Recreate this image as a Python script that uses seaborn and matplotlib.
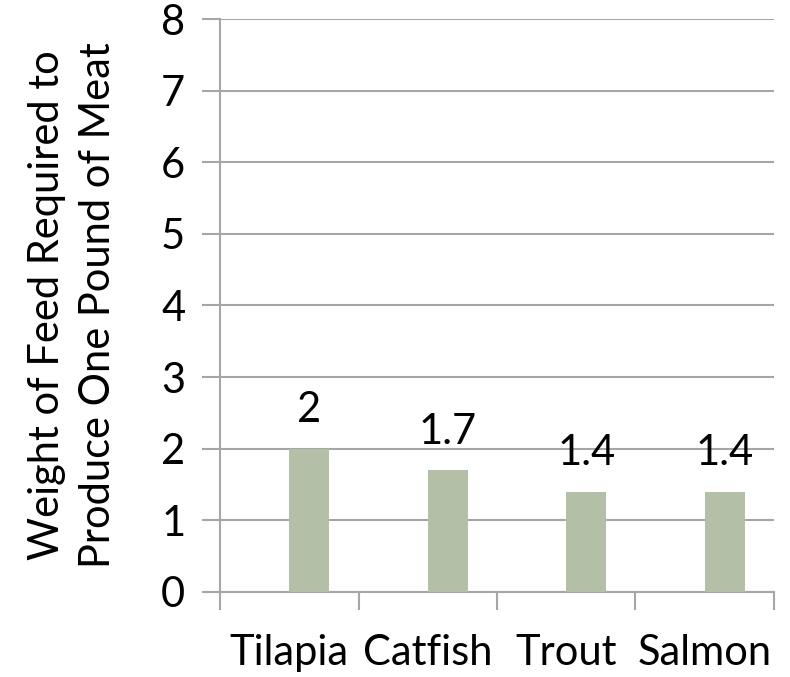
import numpy as np
import pandas as pd
import matplotlib.pyplot as plt
import seaborn as sns

# Chart data
fish = ['Tilapia', 'Catfish', 'Trout', 'Salmon']
feed_ratio = [2, 1.7, 1.4, 1.4]
label_text = ['2', '1.7', '1.4', '1.4']

sns.set_style('white')
plt.rcParams['font.family'] = ['Lato', 'DejaVu Sans']
plt.rcParams['text.color'] = 'black'
plt.rcParams['axes.labelcolor'] = 'black'
plt.rcParams['xtick.labelcolor'] = 'black'
plt.rcParams['ytick.labelcolor'] = 'black'

# Excel-style clustered layout: an empty first series pushes the bars right
df = pd.DataFrame({
    'fish': fish * 2,
    'value': [0] * len(fish) + feed_ratio,
    'series': ['blank'] * len(fish) + ['feed'] * len(fish),
})

grid_color = '#A6A6A6'
bar_color = '#B4C3A3'
fs = 30

fig = plt.figure(figsize=(7.9, 6.77), dpi=100)
ax = fig.add_axes([0.2785, 0.1256, 0.7012, 0.8463])

sns.barplot(data=df, x='fish', y='value', hue='series', hue_order=['blank', 'feed'],
            palette={'blank': bar_color, 'feed': bar_color}, width=0.576,
            linewidth=0, legend=False, ax=ax, zorder=3)

ax.set_ylim(0, 8)
ax.set_xlim(-0.5, len(fish) - 0.5)
ax.set_yticks(range(0, 9))
ax.yaxis.grid(True, color=grid_color, linewidth=1.5, zorder=0)
ax.set_axisbelow(True)

# category boundaries get the tick marks, labels sit at the centres
ax.set_xticks(np.arange(-0.5, len(fish)), labels=[''] * (len(fish) + 1))
ax.set_xticks(range(len(fish)), labels=fish, minor=True)
ax.tick_params(axis='x', which='major', bottom=True, length=13, width=1.5, color=grid_color)
ax.tick_params(axis='x', which='minor', bottom=True, length=0, pad=30, labelsize=fs)
ax.tick_params(axis='y', left=True, length=13, width=1.5, color=grid_color, pad=12, labelsize=fs)

for side in ['top', 'right']:
    ax.spines[side].set_visible(False)
for side in ['left', 'bottom']:
    ax.spines[side].set_color(grid_color)
    ax.spines[side].set_linewidth(1.5)

ax.set_xlabel('')
ax.set_ylabel('Weight of Feed Required to\nProduce One Pound of Meat', fontsize=fs,
              labelpad=32, linespacing=1.4)

# value labels above the visible bars
feed_bars = ax.containers[1]
ax.bar_label(feed_bars, labels=label_text, padding=14, fontsize=fs)

fig.savefig('out.png', dpi=100)
